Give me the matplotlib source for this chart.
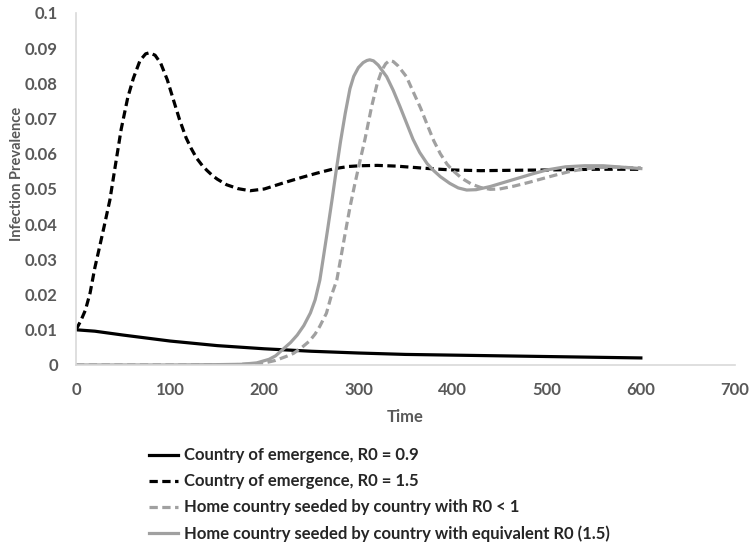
import matplotlib
matplotlib.use("Agg")
import matplotlib.pyplot as plt

# Country of emergence, R0 = 0.9
t_low = [0, 20, 50, 100, 150, 200, 250, 300, 350, 400, 450, 500, 550, 600]
prev_low = [0.0100, 0.0096, 0.0085, 0.0068, 0.0055, 0.0046, 0.0039, 0.0034,
            0.0030, 0.0028, 0.0026, 0.0024, 0.0022, 0.0020]

# Country of emergence, R0 = 1.5
t_high = [0, 5, 10, 15, 20, 25, 30, 36, 42, 48, 55, 61, 68, 74, 78, 84, 90, 97,
          105, 110, 117, 122, 128, 134, 139, 145, 150, 160, 172, 185, 200, 220,
          240, 256, 275, 290, 302, 320, 340, 360, 380, 400, 430, 460, 500, 550,
          600]
prev_high = [0.0100, 0.0125, 0.0156, 0.0205, 0.0276, 0.0335, 0.0395, 0.0469,
             0.0570, 0.0670, 0.0760, 0.0815, 0.0865, 0.0884, 0.0887, 0.0880,
             0.0857, 0.0810, 0.0740, 0.0697, 0.0645, 0.0617, 0.0588, 0.0567,
             0.0553, 0.0538, 0.0528, 0.0512, 0.0501, 0.0495, 0.0500, 0.0517,
             0.0533, 0.0545, 0.0558, 0.0564, 0.0566, 0.0567, 0.0565, 0.0561,
             0.0557, 0.0554, 0.0552, 0.0553, 0.0554, 0.0556, 0.0556]

# Home country seeded by country with R0 < 1
t_seed_low = [0, 120, 170, 199, 212, 224, 231, 240, 248, 254, 259, 266, 271,
              277, 281, 286, 291, 296, 301, 307, 314, 320, 325, 329, 333, 337,
              342, 351, 358, 366, 373, 380, 387, 394, 400, 410, 420, 430, 440,
              450, 465, 480, 495, 510, 525, 540, 555, 570, 585, 600]
prev_seed_low = [0, 0, 0.0001, 0.0005, 0.0013, 0.0025, 0.0033, 0.0050, 0.0068,
                 0.0088, 0.0110, 0.0147, 0.0195, 0.0241, 0.0300, 0.0375, 0.0448,
                 0.0512, 0.0572, 0.0642, 0.0734, 0.0800, 0.0838, 0.0856, 0.0865,
                 0.0862, 0.0850, 0.0819, 0.0777, 0.0730, 0.0683, 0.0637, 0.0600,
                 0.0571, 0.0553, 0.0530, 0.0514, 0.0504, 0.0499, 0.0500, 0.0508,
                 0.0518, 0.0529, 0.0540, 0.0550, 0.0557, 0.0561, 0.0562, 0.0561,
                 0.0560]

# Home country seeded by country with equivalent R0 (1.5)
t_seed_eq = [0, 100, 150, 176, 192, 205, 212, 220, 228, 235, 242, 249, 254, 259,
             263, 267, 272, 276, 281, 286, 291, 295, 300, 305, 309, 312, 316,
             321, 330, 337, 344, 351, 358, 365, 373, 380, 387, 397, 406, 415,
             425, 440, 455, 470, 485, 500, 520, 540, 560, 580, 600]
prev_seed_eq = [0, 0, 0.0001, 0.0002, 0.0006, 0.0016, 0.0026, 0.0045, 0.0064,
                0.0085, 0.0112, 0.0148, 0.0185, 0.0241, 0.0310, 0.0380, 0.0470,
                0.0545, 0.0635, 0.0715, 0.0785, 0.0820, 0.0845, 0.0859, 0.0865,
                0.0867, 0.0864, 0.0852, 0.0819, 0.0780, 0.0735, 0.0688, 0.0641,
                0.0604, 0.0572, 0.0552, 0.0535, 0.0516, 0.0503, 0.0497, 0.0498,
                0.0507, 0.0519, 0.0531, 0.0543, 0.0554, 0.0563, 0.0566, 0.0566,
                0.0562, 0.0558]

labels = ["Country of emergence, R0 = 0.9",
          "Country of emergence, R0 = 1.5",
          "Home country seeded by country with R0 < 1",
          "Home country seeded by country with equivalent R0 (1.5)"]

plt.rcParams['font.family'] = ['Lato', 'DejaVu Sans']
plt.rcParams['font.weight'] = 'bold'

gris = '#a0a0a0'
texto = '#595959'
lw = 2.3
guion = (2.6, 1.4)

fig = plt.figure(figsize=(7.51, 5.5), dpi=100)
ax = fig.add_axes([0.1012, 0.3364, 0.8775, 0.64])

ax.plot(t_low, prev_low, color='black', lw=lw, label=labels[0])
ax.plot(t_high, prev_high, color='black', lw=lw, dashes=guion, label=labels[1])
ax.plot(t_seed_low, prev_seed_low, color=gris, lw=lw, dashes=guion, label=labels[2])
ax.plot(t_seed_eq, prev_seed_eq, color=gris, lw=lw, label=labels[3])

ax.set_xlim(0, 700)
ax.set_ylim(0, 0.1)
ax.set_xticks(range(0, 701, 100))
ax.set_yticks([i / 100 for i in range(11)])
ax.set_yticklabels(["0"] + [f"{i / 100:g}" for i in range(1, 11)])

for lado in ['top', 'right']:
    ax.spines[lado].set_visible(False)
for lado in ['left', 'bottom']:
    ax.spines[lado].set_color('#d9d9d9')
    ax.spines[lado].set_linewidth(1.2)

ax.tick_params(length=0, labelsize=12, colors=texto, pad=12)
ax.tick_params(axis='y', pad=13)

ax.set_xlabel("Time", fontsize=12, color=texto, fontweight='bold', labelpad=8)
fig.text(17 / 751, 1 - 174 / 550, "Infection Prevalence", rotation=90,
         ha='center', va='center', fontsize=10.5, color=texto, fontweight='bold')

leg = fig.legend(loc='upper left', bbox_to_anchor=(141 / 751, 1 - 439 / 550),
                 frameon=False, fontsize=12, handlelength=1.7,
                 handletextpad=0.35, labelspacing=0.6, borderpad=0)
for txt in leg.get_texts():
    txt.set_color('#262626')

fig.savefig("out.png", dpi=100)
